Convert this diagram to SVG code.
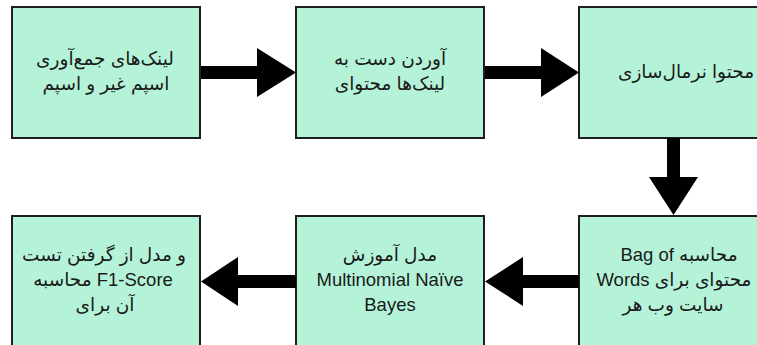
<svg xmlns="http://www.w3.org/2000/svg" width="757" height="345" viewBox="0 0 757 345">
<style>
.box{fill:#b5f3d9;stroke:#1e1e1e;stroke-width:2}
.t{font-family:"Liberation Sans","DejaVu Sans",sans-serif;font-size:18.5px;fill:#1a1a1a;text-anchor:middle;direction:ltr}
.a{fill:#000;stroke:none}
</style>
<rect width="757" height="345" fill="#fff"/>
<g id="n1">
<rect class="box" x="12" y="7" width="188" height="131"/>
<text class="t" x="105" y="65">جمع‌آوری&#x200E; لینک‌های</text>
<text class="t" x="106" y="90">اسپم&#x200E; و&#x200E; غیر&#x200E; اسپم</text>
</g>
<g id="n2">
<rect class="box" x="296" y="7" width="188" height="131"/>
<text class="t" x="390" y="65">به&#x200E; دست&#x200E; آوردن</text>
<text class="t" x="390" y="90">محتوای&#x200E; لینک‌ها</text>
</g>
<g id="n3">
<rect class="box" x="579" y="7" width="188" height="131"/>
<text class="t" x="686" y="78">نرمال‌سازی&#x200E; محتوا</text>
</g>
<g id="n4">
<rect class="box" x="579" y="216" width="188" height="131"/>
<text class="t" x="679" y="261">Bag of&#x200E; محاسبه</text>
<text class="t" x="674" y="286">Words&#x200E; برای&#x200E; محتوای</text>
<text class="t" x="673" y="311">هر&#x200E; وب&#x200E; سایت</text>
</g>
<g id="n5">
<rect class="box" x="296" y="216" width="188" height="131"/>
<text class="t" x="390" y="261">آموزش&#x200E; مدل</text>
<text class="t" x="390" y="286">Multinomial Naïve</text>
<text class="t" x="390" y="311">Bayes</text>
</g>
<g id="n6">
<rect class="box" x="12" y="216" width="188" height="131"/>
<text class="t" x="104" y="261">تست&#x200E; گرفتن&#x200E; از&#x200E; مدل&#x200E; و</text>
<text class="t" x="103" y="286">محاسبه&#x200E; F1-Score</text>
<text class="t" x="105" y="311">برای&#x200E; آن</text>
</g>
<g id="connectors">
<rect class="a" x="201" y="66" width="58" height="13"/>
<polygon class="a" points="257,48 296,72.5 257,97"/>
<rect class="a" x="485" y="66" width="58" height="13"/>
<polygon class="a" points="541,48 579,72.5 541,97"/>
<rect class="a" x="667" y="138" width="13" height="41"/>
<polygon class="a" points="649,177 698,177 673.5,215"/>
<rect class="a" x="521" y="275" width="58" height="13"/>
<polygon class="a" points="523,257 523,306 485,281.5"/>
<rect class="a" x="236" y="275" width="60" height="13"/>
<polygon class="a" points="238,257 238,306 201,281.5"/>
</g>
</svg>
